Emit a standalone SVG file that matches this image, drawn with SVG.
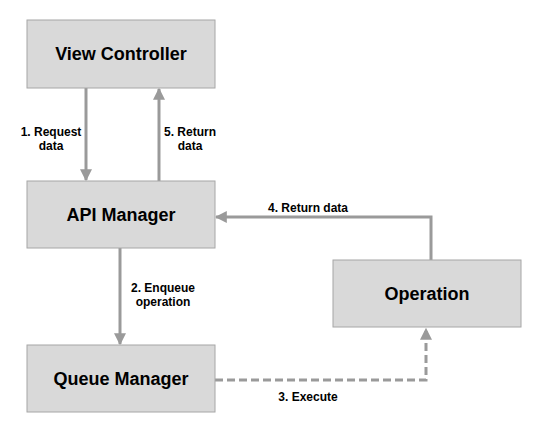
<svg xmlns="http://www.w3.org/2000/svg" width="542" height="434" viewBox="0 0 542 434">
<style>
.node{fill:#d9d9d9;stroke:#a6a6a6;stroke-width:1}
.title{font-family:"Liberation Sans",Arial,sans-serif;font-weight:bold;font-size:18px;fill:#000;text-anchor:middle}
.lbl{font-family:"Liberation Sans",Arial,sans-serif;font-weight:bold;font-size:12px;fill:#000;text-anchor:middle}
.conn{fill:none;stroke:#9a9a9a;stroke-width:3}
.dash{stroke-dasharray:8,4}
</style>
<defs>
<marker id="ah" viewBox="0 0 10 10" refX="9" refY="5" markerWidth="4" markerHeight="4.5" orient="auto" markerUnits="strokeWidth">
<path d="M0,0 L10,5 L0,10 Z" fill="#9a9a9a"/>
</marker>
</defs>
<rect width="542" height="434" fill="#fff"/>
<g id="connectors">
<line class="conn" x1="86" y1="88" x2="86" y2="180" marker-end="url(#ah)"/>
<line class="conn" x1="159" y1="181" x2="159" y2="89" marker-end="url(#ah)"/>
<polyline class="conn" points="431,260 431,217 216,217" marker-end="url(#ah)"/>
<line class="conn" x1="120" y1="248" x2="120" y2="344" marker-end="url(#ah)"/>
<polyline class="conn dash" points="215,380 426,380 426,329" marker-end="url(#ah)"/>
<text class="lbl" x="51" y="136">1. Request</text>
<text class="lbl" x="51" y="150">data</text>
<text class="lbl" x="190" y="136">5. Return</text>
<text class="lbl" x="190" y="150">data</text>
<text class="lbl" x="308" y="212">4. Return data</text>
<text class="lbl" x="163" y="292">2. Enqueue</text>
<text class="lbl" x="163" y="306">operation</text>
<text class="lbl" x="308" y="401">3. Execute</text>
</g>
<g id="view-controller">
<rect class="node" x="27" y="20" width="188" height="68"/>
<text class="title" x="121" y="60">View Controller</text>
</g>
<g id="api-manager">
<rect class="node" x="27" y="181" width="188" height="67"/>
<text class="title" x="121" y="221">API Manager</text>
</g>
<g id="operation">
<rect class="node" x="333" y="260" width="188" height="67"/>
<text class="title" x="427" y="300">Operation</text>
</g>
<g id="queue-manager">
<rect class="node" x="27" y="345" width="188" height="67"/>
<text class="title" x="121" y="385">Queue Manager</text>
</g>
</svg>
